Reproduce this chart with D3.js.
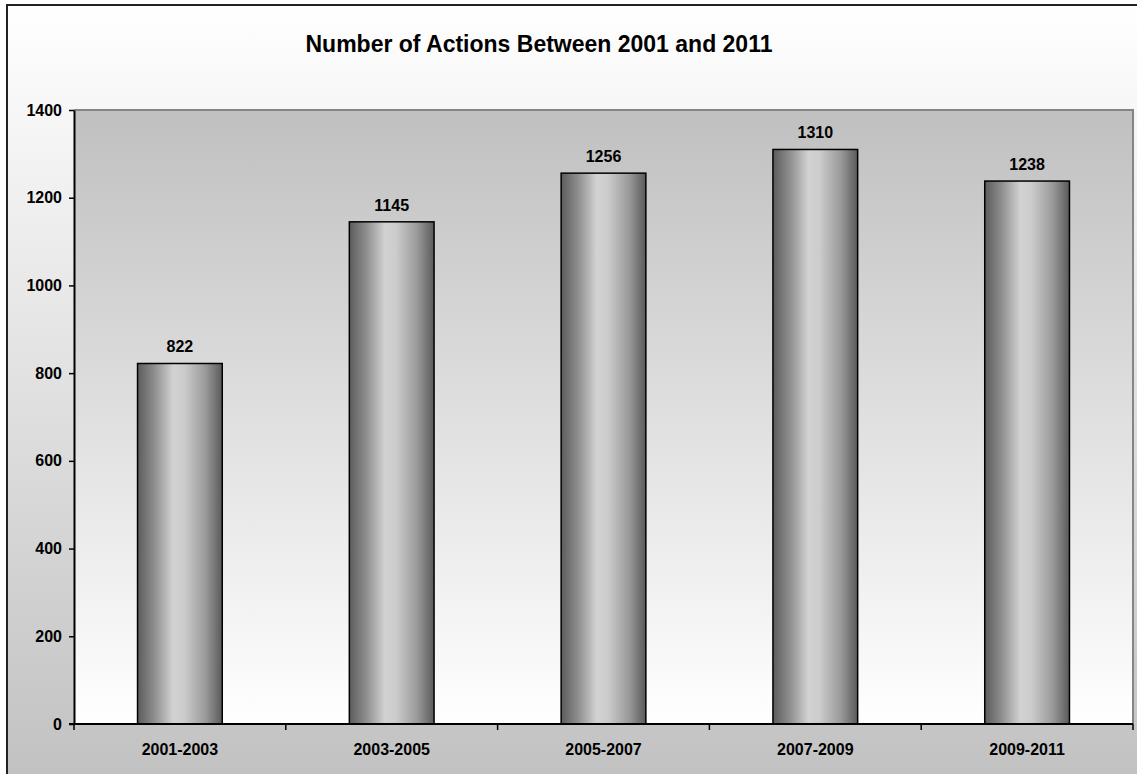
<!DOCTYPE html>
<html>
<head>
<meta charset="utf-8">
<script src="https://cdn.jsdelivr.net/npm/d3@7"></script>
<style>
  body { margin: 0; background: #fff; }
  svg { display: block; font-family: Arial, "Liberation Sans", sans-serif; }
</style>
</head>
<body>
<svg id="chart"></svg>
<script>
const WIDTH = 1137;
const HEIGHT = 774;

const categories = ['2001-2003', '2003-2005', '2005-2007', '2007-2009', '2009-2011'];
const actions = [822, 1145, 1256, 1310, 1238];
const yTicks = [0, 200, 400, 600, 800, 1000, 1200, 1400];
const title = 'Number of Actions Between 2001 and 2011';

const plot = {left: 74, top: 110, right: 1133, bottom: 724};

const svg = d3.select('#chart')
  .attr('width', WIDTH)
  .attr('height', HEIGHT)
  .attr('viewBox', `0 0 ${WIDTH} ${HEIGHT}`);

const defs = svg.append('defs');

// chart background: white at the top, grey at the bottom
const outerGrad = defs.append('linearGradient')
  .attr('id', 'outer-grad')
  .attr('x1', 0).attr('y1', 0).attr('x2', 0).attr('y2', 1);
outerGrad.append('stop').attr('offset', 0).attr('stop-color', '#ffffff');
outerGrad.append('stop').attr('offset', 1).attr('stop-color', '#c0c0c0');

// plot area: grey at the top, white at the bottom
const plotGrad = defs.append('linearGradient')
  .attr('id', 'plot-grad')
  .attr('x1', 0).attr('y1', 0).attr('x2', 0).attr('y2', 1);
plotGrad.append('stop').attr('offset', 0).attr('stop-color', '#c0c0c0');
plotGrad.append('stop').attr('offset', 1).attr('stop-color', '#ffffff');

// cylinder look for the bars
const barGrad = defs.append('linearGradient')
  .attr('id', 'bar-grad')
  .attr('x1', 0).attr('y1', 0).attr('x2', 1).attr('y2', 0);
[[0, '#5c5c5c'], [0.2, '#8e8e8e'], [0.42, '#d2d2d2'], [0.55, '#cccccc'], [0.8, '#9a9a9a'], [1, '#5a5a5a']]
  .forEach(([o, c]) => barGrad.append('stop').attr('offset', o).attr('stop-color', c));

svg.append('rect')
  .attr('x', 7).attr('y', 5)
  .attr('width', WIDTH + 20).attr('height', HEIGHT + 20)
  .attr('fill', 'url(#outer-grad)')
  .attr('stroke', '#222')
  .attr('stroke-width', 2);

svg.append('text')
  .attr('x', 539)
  .attr('y', 52)
  .attr('text-anchor', 'middle')
  .attr('font-size', 23)
  .attr('font-weight', 'bold')
  .text(title);

const x = d3.scaleBand()
  .domain(categories)
  .range([plot.left, plot.right])
  .paddingInner(0.6)
  .paddingOuter(0.3);

const xBoundary = d3.scaleLinear()
  .domain([0, categories.length])
  .range([plot.left, plot.right]);

const y = d3.scaleLinear()
  .domain([0, 1400])
  .range([plot.bottom, plot.top]);

svg.append('rect')
  .attr('x', plot.left).attr('y', plot.top)
  .attr('width', plot.right - plot.left)
  .attr('height', plot.bottom - plot.top)
  .attr('fill', 'url(#plot-grad)');

// grey top and right border of the plot area
svg.append('path')
  .attr('d', `M${plot.left},${plot.top}H${plot.right}V${plot.bottom}`)
  .attr('fill', 'none')
  .attr('stroke', '#858585')
  .attr('stroke-width', 2);

svg.selectAll('.bar')
  .data(actions)
  .join('rect')
  .attr('class', 'bar')
  .attr('x', (d, i) => x(categories[i]))
  .attr('y', d => y(d))
  .attr('width', x.bandwidth())
  .attr('height', d => y(0) - y(d))
  .attr('fill', 'url(#bar-grad)')
  .attr('stroke', '#000')
  .attr('stroke-width', 1.5);

svg.selectAll('.value')
  .data(actions)
  .join('text')
  .attr('class', 'value')
  .attr('x', (d, i) => x(categories[i]) + x.bandwidth() / 2)
  .attr('y', d => y(d) - 11)
  .attr('text-anchor', 'middle')
  .attr('font-size', 16)
  .attr('font-weight', 'bold')
  .text(d => d);

// y axis
const yAxis = svg.append('g')
  .attr('transform', `translate(${plot.left},0)`)
  .call(d3.axisLeft(y).tickValues(yTicks).tickFormat(d3.format('d'))
    .tickSize(5).tickPadding(7).tickSizeOuter(0));
yAxis.select('.domain').attr('stroke', '#000').attr('stroke-width', 2);
yAxis.selectAll('.tick line').attr('stroke', '#000').attr('stroke-width', 1.5);
yAxis.selectAll('.tick text')
  .attr('font-size', 16)
  .attr('font-weight', 'bold')
  .attr('font-family', 'Arial, "Liberation Sans", sans-serif')
  .attr('fill', '#000');

// x axis line with ticks at category boundaries
svg.append('line')
  .attr('x1', plot.left - 5).attr('x2', plot.right)
  .attr('y1', plot.bottom).attr('y2', plot.bottom)
  .attr('stroke', '#000').attr('stroke-width', 2);

svg.selectAll('.xtick')
  .data(d3.range(categories.length + 1))
  .join('line')
  .attr('class', 'xtick')
  .attr('x1', d => xBoundary(d)).attr('x2', d => xBoundary(d))
  .attr('y1', plot.bottom).attr('y2', plot.bottom + 6)
  .attr('stroke', '#000').attr('stroke-width', 1.5);

svg.selectAll('.xlabel')
  .data(categories)
  .join('text')
  .attr('class', 'xlabel')
  .attr('x', d => x(d) + x.bandwidth() / 2)
  .attr('y', 755)
  .attr('text-anchor', 'middle')
  .attr('font-size', 16)
  .attr('font-weight', 'bold')
  .text(d => d);
</script>
</body>
</html>
